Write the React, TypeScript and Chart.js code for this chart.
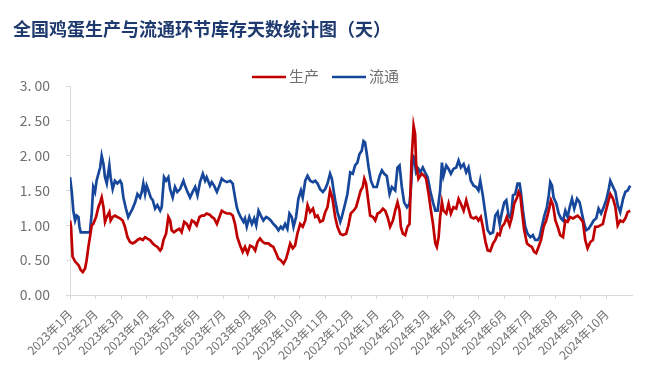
import React, { useEffect, useRef } from "react";
import { Chart, registerables } from "chart.js";

Chart.register(...registerables);

const TITLE = "全国鸡蛋生产与流通环节库存天数统计图（天）";
const SERIES_NAMES = ["生产", "流通"];

const monthLabels = [
  "2023年1月", "2023年2月", "2023年3月", "2023年4月", "2023年5月", "2023年6月",
  "2023年7月", "2023年8月", "2023年9月", "2023年10月", "2023年11月", "2023年12月",
  "2024年1月", "2024年2月", "2024年3月", "2024年4月", "2024年5月", "2024年6月",
  "2024年7月", "2024年8月", "2024年9月", "2024年10月",
];

const yTicks = [0, 0.5, 1, 1.5, 2, 2.5, 3];

// time in months since 2023-01 (fractional), values in days
const prodT = [
  0.00, 0.04, 0.10, 0.20, 0.33, 0.42, 0.50, 0.59, 0.65, 0.72, 0.78, 0.85, 0.91, 1.02, 1.11, 1.18, 1.24, 1.31, 1.37, 1.44,
  1.54, 1.59, 1.67, 1.76, 1.85, 1.96, 2.06, 2.15, 2.25, 2.35, 2.45, 2.55, 2.64, 2.74, 2.85, 2.94, 3.03, 3.13, 3.24, 3.33,
  3.42, 3.53, 3.59, 3.66, 3.76, 3.85, 3.92, 3.98, 4.07, 4.18, 4.28, 4.37, 4.47, 4.57, 4.67, 4.77, 4.86, 4.96, 5.07, 5.16,
  5.25, 5.35, 5.48, 5.55, 5.64, 5.75, 5.85, 5.94, 6.03, 6.14, 6.27, 6.37, 6.46, 6.55, 6.66, 6.76, 6.85, 6.95, 7.05, 7.16,
  7.25, 7.34, 7.44, 7.55, 7.64, 7.77, 7.86, 7.96, 8.07, 8.16, 8.25, 8.36, 8.46, 8.55, 8.62, 8.72, 8.81, 8.90, 9.01, 9.11,
  9.21, 9.30, 9.40, 9.51, 9.60, 9.69, 9.79, 9.90, 9.99, 10.08, 10.18, 10.27, 10.38, 10.47, 10.58, 10.68, 10.81, 10.90, 10.99, 11.10,
  11.20, 11.29, 11.38, 11.46, 11.52, 11.59, 11.69, 11.75, 11.86, 11.95, 12.04, 12.14, 12.25, 12.34, 12.43, 12.53, 12.64, 12.73, 12.82, 12.90,
  12.95, 13.03, 13.12, 13.21, 13.29, 13.37, 13.45, 13.51, 13.55, 13.64, 13.71, 13.77, 13.87, 13.94, 14.04, 14.13, 14.21, 14.30, 14.36, 14.43,
  14.49, 14.56, 14.62, 14.73, 14.82, 14.91, 15.01, 15.12, 15.21, 15.30, 15.41, 15.51, 15.60, 15.69, 15.80, 15.90, 15.99, 16.08, 16.16, 16.26,
  16.35, 16.45, 16.56, 16.65, 16.74, 16.82, 16.91, 17.00, 17.10, 17.21, 17.30, 17.39, 17.50, 17.56, 17.63, 17.69, 17.78, 17.89, 17.99, 18.08,
  18.17, 18.25, 18.34, 18.44, 18.54, 18.64, 18.74, 18.83, 18.91, 19.00, 19.09, 19.19, 19.30, 19.39, 19.48, 19.58, 19.69, 19.78, 19.87, 19.98,
  20.08, 20.17, 20.26, 20.37, 20.47, 20.56, 20.66, 20.76, 20.86, 20.95, 21.05, 21.15, 21.26, 21.35, 21.44, 21.54, 21.65, 21.74, 21.83, 21.93,
];
const prodV = [
  1.07, 0.98, 0.55, 0.48, 0.43, 0.36, 0.33, 0.38, 0.50, 0.69, 0.83, 1.00, 1.02, 1.12, 1.26, 1.33, 1.40, 1.26, 1.05, 1.12,
  1.19, 1.07, 1.12, 1.14, 1.12, 1.10, 1.07, 0.98, 0.83, 0.76, 0.74, 0.76, 0.79, 0.81, 0.79, 0.83, 0.81, 0.79, 0.74, 0.71,
  0.69, 0.64, 0.67, 0.79, 0.88, 1.12, 1.07, 0.93, 0.90, 0.93, 0.95, 0.90, 1.05, 1.02, 0.95, 1.07, 1.05, 1.00, 1.12, 1.14,
  1.14, 1.17, 1.15, 1.12, 1.10, 1.02, 1.12, 1.21, 1.19, 1.17, 1.17, 1.14, 1.02, 0.83, 0.71, 0.62, 0.69, 0.60, 0.71, 0.69,
  0.64, 0.76, 0.81, 0.76, 0.74, 0.74, 0.71, 0.69, 0.60, 0.52, 0.50, 0.45, 0.52, 0.64, 0.74, 0.67, 0.71, 0.88, 1.02, 0.98,
  1.07, 1.29, 1.19, 1.24, 1.12, 1.14, 1.05, 1.07, 1.19, 1.26, 1.50, 1.40, 1.12, 0.98, 0.88, 0.86, 0.88, 1.00, 1.17, 1.21,
  1.26, 1.38, 1.50, 1.55, 1.67, 1.60, 1.31, 1.14, 1.12, 1.07, 1.17, 1.19, 1.24, 1.21, 1.12, 0.98, 1.07, 1.21, 1.33, 1.21,
  0.98, 0.88, 0.86, 0.98, 1.02, 1.93, 2.43, 2.31, 1.88, 1.67, 1.71, 1.74, 1.71, 1.67, 1.45, 1.21, 1.02, 0.74, 0.69, 0.83,
  1.12, 1.33, 1.21, 1.17, 1.31, 1.17, 1.26, 1.24, 1.38, 1.31, 1.21, 1.36, 1.24, 1.12, 1.10, 1.12, 1.07, 1.12, 0.98, 0.77,
  0.64, 0.63, 0.74, 0.79, 0.88, 0.86, 0.98, 1.02, 1.12, 1.00, 1.12, 1.31, 1.40, 1.48, 1.43, 1.21, 0.93, 0.74, 0.71, 0.69,
  0.62, 0.60, 0.69, 0.79, 0.98, 1.07, 1.21, 1.36, 1.29, 1.07, 0.98, 0.86, 0.83, 1.07, 1.05, 1.12, 1.10, 1.12, 1.14, 1.10,
  1.05, 0.79, 0.67, 0.76, 0.79, 0.98, 0.98, 1.00, 1.02, 1.17, 1.31, 1.45, 1.38, 1.26, 1.00, 1.07, 1.05, 1.10, 1.19, 1.21,
];

const circT = [
  0.00, 0.07, 0.13, 0.20, 0.26, 0.33, 0.37, 0.42, 0.78, 0.85, 0.91, 0.98, 1.04, 1.18, 1.24, 1.31, 1.37, 1.44, 1.54, 1.59,
  1.67, 1.76, 1.85, 1.96, 2.02, 2.09, 2.19, 2.28, 2.38, 2.45, 2.55, 2.64, 2.74, 2.81, 2.87, 2.94, 3.00, 3.07, 3.16, 3.24,
  3.33, 3.42, 3.53, 3.59, 3.68, 3.76, 3.85, 3.92, 4.02, 4.11, 4.20, 4.31, 4.44, 4.50, 4.60, 4.70, 4.80, 4.90, 4.99, 5.09,
  5.20, 5.29, 5.35, 5.48, 5.55, 5.64, 5.75, 5.85, 5.94, 6.03, 6.14, 6.27, 6.37, 6.46, 6.53, 6.59, 6.68, 6.79, 6.85, 6.92,
  7.02, 7.12, 7.21, 7.29, 7.38, 7.47, 7.57, 7.68, 7.77, 7.86, 7.96, 8.07, 8.16, 8.25, 8.33, 8.42, 8.51, 8.59, 8.68, 8.75,
  8.85, 8.94, 9.04, 9.11, 9.21, 9.30, 9.40, 9.51, 9.60, 9.69, 9.79, 9.90, 9.99, 10.08, 10.18, 10.25, 10.31, 10.38, 10.47, 10.58,
  10.64, 10.77, 10.86, 10.97, 11.07, 11.16, 11.25, 11.33, 11.42, 11.49, 11.55, 11.62, 11.69, 11.78, 11.88, 12.01, 12.12, 12.21, 12.30, 12.40,
  12.51, 12.60, 12.73, 12.82, 12.90, 12.99, 13.08, 13.19, 13.29, 13.34, 13.42, 13.47, 13.55, 13.64, 13.71, 13.81, 13.90, 14.00, 14.10, 14.21,
  14.30, 14.39, 14.49, 14.56, 14.62, 14.73, 14.82, 14.91, 15.01, 15.12, 15.21, 15.30, 15.41, 15.51, 15.60, 15.69, 15.80, 15.90, 15.99, 16.06,
  16.16, 16.26, 16.35, 16.45, 16.56, 16.65, 16.74, 16.82, 16.91, 17.00, 17.08, 17.17, 17.26, 17.34, 17.43, 17.52, 17.60, 17.65, 17.73, 17.82,
  17.91, 18.02, 18.12, 18.21, 18.31, 18.38, 18.47, 18.57, 18.67, 18.74, 18.80, 18.87, 18.93, 19.04, 19.13, 19.22, 19.30, 19.39, 19.48, 19.56,
  19.65, 19.74, 19.85, 19.95, 20.04, 20.13, 20.21, 20.30, 20.39, 20.50, 20.60, 20.69, 20.79, 20.89, 20.99, 21.09, 21.15, 21.26, 21.35, 21.44,
  21.54, 21.65, 21.74, 21.83, 21.93,
];
const circV = [
  1.69, 1.48, 1.21, 1.07, 1.14, 1.12, 0.98, 0.90, 0.90, 1.17, 1.55, 1.48, 1.64, 1.83, 2.00, 1.88, 1.69, 1.60, 1.86, 1.69,
  1.52, 1.64, 1.60, 1.64, 1.60, 1.40, 1.24, 1.12, 1.19, 1.24, 1.33, 1.45, 1.40, 1.48, 1.60, 1.45, 1.57, 1.50, 1.40, 1.36,
  1.24, 1.29, 1.21, 1.26, 1.69, 1.64, 1.69, 1.52, 1.40, 1.55, 1.48, 1.52, 1.64, 1.57, 1.48, 1.40, 1.48, 1.55, 1.43, 1.62,
  1.74, 1.64, 1.69, 1.57, 1.62, 1.57, 1.48, 1.57, 1.67, 1.64, 1.62, 1.64, 1.60, 1.40, 1.26, 1.19, 1.12, 1.05, 1.10, 0.98,
  1.12, 1.02, 1.10, 1.00, 1.21, 1.14, 1.07, 1.12, 1.10, 1.07, 1.02, 0.98, 0.93, 0.98, 0.95, 1.02, 0.95, 1.17, 1.12, 0.98,
  1.12, 1.38, 1.50, 1.40, 1.64, 1.71, 1.64, 1.62, 1.64, 1.60, 1.52, 1.48, 1.52, 1.60, 1.74, 1.67, 1.52, 1.36, 1.19, 1.05,
  1.12, 1.31, 1.45, 1.76, 1.74, 1.86, 1.90, 2.02, 2.07, 2.21, 2.19, 2.02, 1.83, 1.64, 1.55, 1.55, 1.71, 1.79, 1.74, 1.71,
  1.45, 1.55, 1.50, 1.83, 1.86, 1.55, 1.33, 1.26, 1.31, 1.50, 2.00, 1.98, 1.76, 1.81, 1.76, 1.83, 1.76, 1.69, 1.50, 1.33,
  1.21, 1.21, 1.50, 1.90, 1.71, 1.86, 1.81, 1.74, 1.81, 1.83, 1.93, 1.83, 1.88, 1.76, 1.83, 1.64, 1.57, 1.55, 1.50, 1.64,
  1.43, 1.17, 0.93, 0.88, 0.90, 1.14, 1.19, 1.02, 1.19, 1.33, 1.36, 1.14, 1.10, 1.43, 1.45, 1.60, 1.60, 1.48, 1.21, 0.98,
  0.88, 0.83, 0.86, 0.79, 0.79, 0.83, 0.98, 1.14, 1.26, 1.43, 1.62, 1.57, 1.40, 1.31, 1.17, 1.10, 1.07, 1.21, 1.12, 1.26,
  1.38, 1.24, 1.38, 1.33, 1.17, 1.02, 0.93, 0.95, 1.00, 1.07, 1.10, 1.24, 1.17, 1.26, 1.36, 1.52, 1.64, 1.55, 1.48, 1.29,
  1.19, 1.38, 1.48, 1.50, 1.57,
];

const RED = "#C00000";
const BLUE = "#17479A";
const AXIS = "#D9D9D9";
const TEXT = "#707070";
const FONT = '"Noto Sans CJK SC", "Noto Sans", sans-serif';

const toPoints = (t: number[], v: number[]) => t.map((x, i) => ({ x, y: v[i] }));

const overlay = {
  id: "overlay",
  afterDraw(chart: any) {
    const ctx = chart.ctx;
    ctx.save();
    ctx.font = `bold 18px ${FONT}`;
    ctx.fillStyle = "#1F3A6E";
    ctx.textBaseline = "middle";
    ctx.textAlign = "left";
    ctx.fillText(TITLE, 13, 29);

    const items = [
      { name: SERIES_NAMES[0], color: RED, x: 252 },
      { name: SERIES_NAMES[1], color: BLUE, x: 332 },
    ];
    ctx.font = `15px ${FONT}`;
    items.forEach((it) => {
      ctx.strokeStyle = it.color;
      ctx.lineWidth = 2.5;
      ctx.beginPath();
      ctx.moveTo(it.x, 77);
      ctx.lineTo(it.x + 34, 77);
      ctx.stroke();
      ctx.fillStyle = TEXT;
      ctx.fillText(it.name, it.x + 37, 76.5);
    });
    ctx.restore();
  },
};

export default function App() {
  const ref = useRef<HTMLCanvasElement | null>(null);
  useEffect(() => {
    if (!ref.current) return;
    const chart = new Chart(ref.current, {
      type: "line",
      data: {
        datasets: [
          {
            label: SERIES_NAMES[0],
            data: toPoints(prodT, prodV),
            borderColor: RED,
            backgroundColor: RED,
            borderWidth: 2.7,
            pointRadius: 0,
            tension: 0,
          },
          {
            label: SERIES_NAMES[1],
            data: toPoints(circT, circV),
            borderColor: BLUE,
            backgroundColor: BLUE,
            borderWidth: 2.7,
            pointRadius: 0,
            tension: 0,
          },
        ],
      },
      options: {
        animation: false,
        responsive: true,
        maintainAspectRatio: false,
        layout: { padding: { top: 86, left: 0, right: 28, bottom: 0 } },
        plugins: {
          legend: { display: false },
          title: { display: false },
          tooltip: { enabled: false },
        },
        scales: {
          x: {
            type: "linear",
            min: 0,
            max: monthLabels.length,
            afterBuildTicks: (scale: any) => {
              scale.ticks = monthLabels.map((_, i) => ({ value: i }));
            },
            afterFit: (scale: any) => {
              scale.height = 79;
              scale.paddingLeft = 0;
              scale.paddingRight = 0;
            },
            grid: { drawOnChartArea: false, drawTicks: true, tickLength: 4, color: AXIS },
            border: { display: true, color: AXIS, width: 1 },
            ticks: {
              autoSkip: false,
              minRotation: 45,
              maxRotation: 45,
              padding: 8,
              color: TEXT,
              font: { family: FONT, size: 12 },
              callback: (v: any) => monthLabels[v] ?? "",
            },
          },
          y: {
            min: 0,
            max: 3,
            afterBuildTicks: (scale: any) => {
              scale.ticks = yTicks.map((value) => ({ value }));
            },
            afterFit: (scale: any) => {
              scale.width = 70;
              scale.paddingTop = 0;
              scale.paddingBottom = 0;
            },
            grid: { drawOnChartArea: false, drawTicks: true, tickLength: 4, color: AXIS },
            border: { display: true, color: AXIS, width: 1 },
            ticks: {
              padding: 16,
              color: TEXT,
              font: { family: FONT, size: 14 },
              callback: (v: any) => Number(v).toFixed(2).replace(".", ". "),
            },
          },
        },
      },
      plugins: [overlay],
    });
    return () => chart.destroy();
  }, []);
  return (
    <div style={{ position: "fixed", left: 0, top: 0, width: 660, height: 374, background: "#fff" }}>
      <canvas ref={ref} />
    </div>
  );
}
